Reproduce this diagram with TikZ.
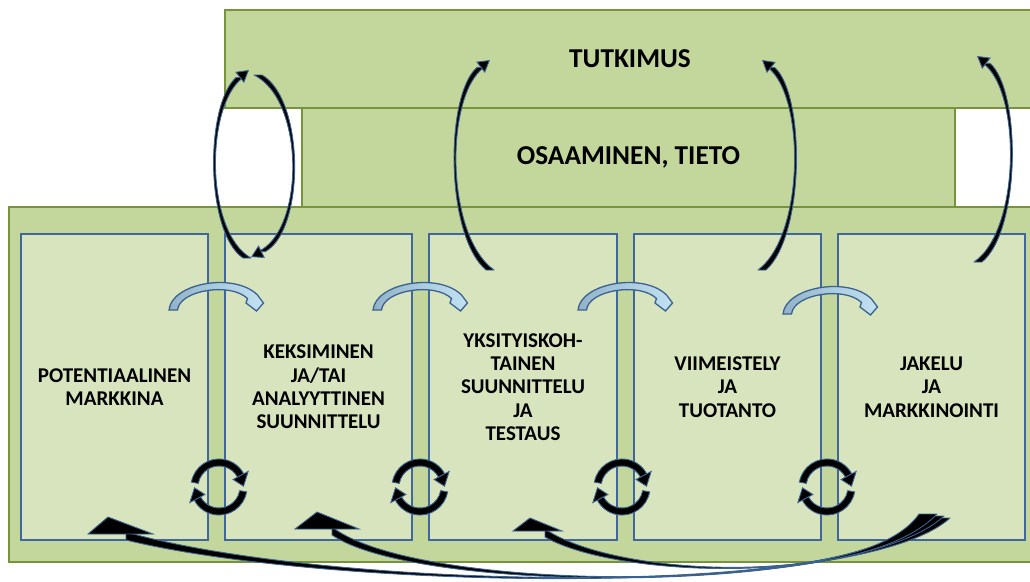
\documentclass[tikz,border=0pt]{standalone}
\usepackage{fontspec}
\setmainfont{Carlito}
\usetikzlibrary{arrows.meta,calc}
\definecolor{topfill}{HTML}{C3D69B}
\definecolor{topdraw}{HTML}{77933C}
\definecolor{colfill}{HTML}{D7E4BD}
\definecolor{coldraw}{HTML}{41679A}
\definecolor{arcblue}{HTML}{3B6290}
\definecolor{smallL}{HTML}{93B3CA}
\definecolor{smallR}{HTML}{C2E2F2}
\tikzset{
 greenbox/.style={draw=topdraw, fill=topfill, line width=2pt, inner sep=0pt},
 colbox/.style={draw=coldraw, fill=colfill, line width=1.6pt, minimum width=187.5pt, minimum height=306pt, align=center, font=\fontsize{21}{23.3}\selectfont\bfseries, inner sep=0pt},
 toptext/.style={font=\fontsize{27.3}{31}\selectfont\bfseries},
 ribbon/.style={fill=black, draw=arcblue, line width=0.9pt, line join=round},
 ribbontip/.style={draw=arcblue, line width=0.9pt, -{Triangle[length=12pt,width=14pt,fill=black]}},
 bighead/.style={fill=black, draw=arcblue, line width=0.9pt, line join=miter},
 smallarc/.style={draw=arcblue, line width=1.3pt, left color=smallL, right color=smallR},
 cycarc/.style={fill=black, draw=arcblue, line width=0.9pt},
}
\newcommand{\ribbonarrow}[6]{%
  \coordinate (rbN) at ($(#4)!12pt!(#3)$);
  \draw[ribbon] ($(#1)+(#5)$) .. controls (#2) and (#3) .. ($(rbN)+(#6)$) -- ($(rbN)-(#6)$) .. controls (#3) and (#2) .. ($(#1)-(#5)$) -- cycle;
  \draw[ribbontip] (rbN) -- (#4);
}
\newcommand{\cyclemark}[3]{%
\begin{scope}[shift={(#2,#3)}, yscale=-1]
 \coordinate (#1) at (0,0);
 \draw[cycarc] (170:28) arc[start angle=170, end angle=28, radius=28] -- (28:21) arc[start angle=28, end angle=170, radius=21] -- cycle;
 \draw[cycarc] (28:16) -- (28:33) -- (2:24.5) -- cycle;
 \draw[cycarc] (-10:28) arc[start angle=-10, end angle=-152, radius=28] -- (-152:21) arc[start angle=-152, end angle=-10, radius=21] -- cycle;
 \draw[cycarc] (-152:16) -- (-152:33) -- (-178:24.5) -- cycle;
\end{scope}}
\newcommand{\smallcurve}[3]{%
\begin{scope}[shift={(#2,#3)}]
 \coordinate (#1) at (0,300);
 \draw[smallarc] (-47.5,310) .. controls (-45,283) and (18,272) .. (41,295) -- (47,303) -- (40,311) -- (29.5,303) -- (31,298.5) .. controls (14,282) and (-37,290) .. (-39,310) -- cycle;
\end{scope}}
\begin{document}
\begin{tikzpicture}[x=1pt,y=-1pt]
\useasboundingbox (0,0) rectangle (1030,581);
\clip (0,0) rectangle (1030,581);
% boxes
\node[greenbox, toptext, minimum width=810pt, minimum height=98pt] (tut) at (630,59) {TUTKIMUS};
\node[greenbox, toptext, minimum width=653pt, minimum height=99pt] (osa) at (628.5,157.5) {OSAAMINEN, TIETO};
\node[greenbox, minimum width=1031pt, minimum height=355pt] (base) at (524.5,384.5) {};
% columns
\node[colbox] (c1) at (114.5,387) {POTENTIAALINEN\\MARKKINA};
\node[colbox] (c2) at (318.5,387) {KEKSIMINEN\\JA/TAI\\ANALYYTTINEN\\SUUNNITTELU};
\node[colbox] (c3) at (523,387) {YKSITYISKOH-\\TAINEN\\SUUNNITTELU\\JA\\TESTAUS};
\node[colbox] (c4) at (727.5,387) {VIIMEISTELY\\JA\\TUOTANTO};
\node[colbox] (c5) at (931.5,387) {JAKELU\\JA\\MARKKINOINTI};
% small arcs
\smallcurve{s1}{216.5}{0}
\smallcurve{s2}{420.5}{0}
\smallcurve{s3}{625.5}{0}
\smallcurve{s4}{830.5}{4}
% cycles
\cyclemark{r1}{219}{487}
\cyclemark{r2}{420}{487}
\cyclemark{r3}{622}{487}
\cyclemark{r4}{827}{487}
% tall arcs
\coordinate (a1s) at (247,258); \coordinate (a1t) at (249,70);
\ribbonarrow{a1s}{205,232}{205,105}{a1t}{4,0}{3.5,0}
\coordinate (a2s) at (258,75); \coordinate (a2t) at (251,257);
\ribbonarrow{a2s}{305,100}{305,230}{a2t}{4,0}{3.5,0}
\coordinate (a3s) at (490,270); \coordinate (a3t) at (490,60);
\ribbonarrow{a3s}{445,235}{445,95}{a3t}{4,0}{3.5,0}
\coordinate (a4s) at (762,270); \coordinate (a4t) at (762,60);
\ribbonarrow{a4s}{805,235}{805,95}{a4t}{4,0}{3.5,0}
\coordinate (a5s) at (978,262); \coordinate (a5t) at (977,56);
\ribbonarrow{a5s}{1021,230}{1021,90}{a5t}{4,0}{3.5,0}
% big bottom arrows
\coordinate (b1s) at (941,518); \coordinate (b1n) at (126,536);
\draw[ribbon] ($(b1s)+(9,0)$) .. controls (860,600) and (330,590) .. ($(b1n)+(0,4)$) -- ($(b1n)-(0,4)$) .. controls (330,590) and (860,600) .. ($(b1s)-(9,0)$) -- cycle;
\draw[bighead] (88,534) -- (108,517) -- (153,534) -- cycle;
\coordinate (b2s) at (935,516); \coordinate (b2n) at (332,531);
\draw[ribbon] ($(b2s)+(9,0)$) .. controls (860,595) and (420,595) .. ($(b2n)+(0,4)$) -- ($(b2n)-(0,4)$) .. controls (420,595) and (860,595) .. ($(b2s)-(9,0)$) -- cycle;
\draw[bighead] (295,529) -- (317,512) -- (359,529) -- cycle;
\coordinate (b3s) at (928,514); \coordinate (b3n) at (545,533);
\draw[ribbon] ($(b3s)+(9,0)$) .. controls (870,585) and (620,580) .. ($(b3n)+(0,4)$) -- ($(b3n)-(0,4)$) .. controls (620,580) and (870,585) .. ($(b3s)-(9,0)$) -- cycle;
\draw[bighead] (513,531) -- (530,518) -- (562,531) -- cycle;
\end{tikzpicture}
\end{document}
